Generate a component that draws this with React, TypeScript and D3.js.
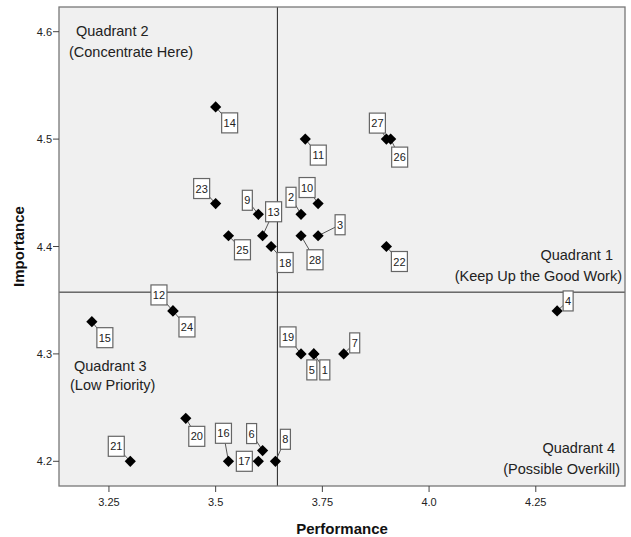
import React, { useEffect, useRef } from 'react';
import * as d3 from 'd3';

// item numbers and their mean scores
const ids = [1, 2, 3, 4, 5, 6, 7, 8, 9, 10, 11, 12, 13, 14, 15, 16, 17, 18, 19, 20, 21, 22, 23, 24, 25, 26, 27, 28];
const performance = [3.73, 3.70, 3.74, 4.30, 3.73, 3.61, 3.80, 3.64, 3.60, 3.74, 3.71, 3.40, 3.61, 3.50, 3.21, 3.53, 3.60, 3.63, 3.70, 3.43, 3.30, 3.90, 3.50, 3.40, 3.53, 3.91, 3.90, 3.70];
const importance = [4.30, 4.43, 4.41, 4.34, 4.30, 4.21, 4.30, 4.20, 4.43, 4.44, 4.50, 4.34, 4.41, 4.53, 4.33, 4.20, 4.20, 4.40, 4.30, 4.24, 4.20, 4.40, 4.44, 4.34, 4.41, 4.50, 4.50, 4.41];

const xTicks = [3.25, 3.5, 3.75, 4.0, 4.25];
const xTickLabels = ['3.25', '3.5', '3.75', '4.0', '4.25'];
const yTicks = [4.2, 4.3, 4.4, 4.5, 4.6];
const yTickLabels = ['4.2', '4.3', '4.4', '4.5', '4.6'];

// label box offsets from the marker, in pixels (layout only)
const labelDx = [11, -10, 22, 11, -2, -11, 11, 10, -11, -11, 13, -14, 11, 14, 13, -5, -14, 14, -13, 11, -14, 13, -14, 14, 14, 9, -9, 14];
const labelDy = [16, -17, -11, -10, 16, -17, -11, -22, -14, -16, 16, -16, -24, 16, 16, -28, 0, 16, -17, 18, -15, 15, -15, 16, 14, 18, -16, 24];

const W = 631;
const H = 537;
const margin = { top: 7, right: 6, bottom: 51, left: 59 };
const font = '"Liberation Sans", Arial, sans-serif';

const App: React.FC = () => {
  const svgRef = useRef<SVGSVGElement>(null);

  useEffect(() => {
    if (!svgRef.current) return;
    const svg = d3.select(svgRef.current);
    svg.selectAll('*').remove();

    const x = d3.scaleLinear().domain([3.133, 4.459]).range([margin.left, W - margin.right]);
    const y = d3.scaleLinear().domain([4.177, 4.623]).range([H - margin.bottom, margin.top]);
    const [x0, x1] = x.range();
    const [y1, y0] = y.range();

    const points = ids.map((id, i) => ({ id, p: performance[i], imp: importance[i], dx: labelDx[i], dy: labelDy[i] }));

    svg.append('rect')
      .attr('x', x0).attr('y', y0)
      .attr('width', x1 - x0).attr('height', y1 - y0)
      .attr('fill', '#f0f0f0');

    // reference lines at the means
    const meanP = d3.mean(performance) as number;
    const meanI = d3.mean(importance) as number;
    svg.append('line')
      .attr('x1', x(meanP)).attr('x2', x(meanP))
      .attr('y1', y0).attr('y2', y1)
      .attr('stroke', '#222').attr('stroke-width', 1);
    svg.append('line')
      .attr('x1', x0).attr('x2', x1)
      .attr('y1', y(meanI)).attr('y2', y(meanI))
      .attr('stroke', '#222').attr('stroke-width', 1);

    // frame
    svg.append('rect')
      .attr('x', x0).attr('y', y0)
      .attr('width', x1 - x0).attr('height', y1 - y0)
      .attr('fill', 'none').attr('stroke', '#777').attr('stroke-width', 1.3);

    // axes
    const xAxis = svg.append('g');
    xTicks.forEach((t, i) => {
      xAxis.append('line')
        .attr('x1', x(t)).attr('x2', x(t))
        .attr('y1', y1).attr('y2', y1 + 6)
        .attr('stroke', '#444');
      xAxis.append('text')
        .attr('x', x(t)).attr('y', y1 + 20)
        .attr('text-anchor', 'middle')
        .attr('font-family', font).attr('font-size', 11)
        .attr('fill', '#222')
        .text(xTickLabels[i]);
    });
    const yAxis = svg.append('g');
    yTicks.forEach((t, i) => {
      yAxis.append('line')
        .attr('x1', x0 - 6).attr('x2', x0)
        .attr('y1', y(t)).attr('y2', y(t))
        .attr('stroke', '#444');
      yAxis.append('text')
        .attr('x', x0 - 7).attr('y', y(t) + 4)
        .attr('text-anchor', 'end')
        .attr('font-family', font).attr('font-size', 11)
        .attr('fill', '#222')
        .text(yTickLabels[i]);
    });

    svg.append('text')
      .attr('x', (x0 + x1) / 2).attr('y', H - 3)
      .attr('text-anchor', 'middle')
      .attr('font-family', font).attr('font-size', 15).attr('font-weight', 'bold')
      .attr('fill', '#111')
      .text('Performance');
    svg.append('text')
      .attr('transform', `translate(24,${(y0 + y1) / 2}) rotate(-90)`)
      .attr('text-anchor', 'middle')
      .attr('font-family', font).attr('font-size', 15).attr('font-weight', 'bold')
      .attr('fill', '#111')
      .text('Importance');

    // quadrant captions
    const cap = (tx: number, ty: number, anchor: string, s: string) =>
      svg.append('text')
        .attr('x', tx).attr('y', ty)
        .attr('text-anchor', anchor)
        .attr('font-family', font).attr('font-size', 14.5)
        .attr('fill', '#222')
        .text(s);
    cap(x0 + 17, y0 + 29, 'start', 'Quadrant 2');
    cap(x0 + 10, y0 + 50, 'start', '(Concentrate Here)');
    cap(x1 - 12, 259.5, 'end', 'Quadrant 1');
    cap(x1 - 3, 280.5, 'end', '(Keep Up the Good Work)');
    cap(x0 + 15, 371, 'start', 'Quadrant 3');
    cap(x0 + 11, 390, 'start', '(Low Priority)');
    cap(x1 - 10, y1 - 33, 'end', 'Quadrant 4');
    cap(x1 - 5, y1 - 12, 'end', '(Possible Overkill)');

    // leader lines
    svg.append('g').selectAll('line')
      .data(points).enter().append('line')
      .attr('x1', d => x(d.p)).attr('y1', d => y(d.imp))
      .attr('x2', d => x(d.p) + d.dx).attr('y2', d => y(d.imp) + d.dy)
      .attr('stroke', '#555').attr('stroke-width', 1);

    // markers
    const r = 5.6;
    svg.append('g').selectAll('path')
      .data(points).enter().append('path')
      .attr('d', d => {
        const cx = x(d.p), cy = y(d.imp);
        return `M${cx},${cy - r}L${cx + r},${cy}L${cx},${cy + r}L${cx - r},${cy}Z`;
      })
      .attr('fill', '#000');

    // label boxes
    const lab = svg.append('g').selectAll('g')
      .data(points).enter().append('g')
      .attr('transform', d => `translate(${x(d.p) + d.dx},${y(d.imp) + d.dy})`);
    lab.append('rect')
      .attr('x', d => (String(d.id).length > 1 ? -8 : -5))
      .attr('y', -10)
      .attr('width', d => (String(d.id).length > 1 ? 16 : 10))
      .attr('height', 20)
      .attr('fill', '#fff')
      .attr('stroke', '#666').attr('stroke-width', 1.2);
    lab.append('text')
      .attr('y', 4)
      .attr('text-anchor', 'middle')
      .attr('font-family', font).attr('font-size', 11)
      .attr('fill', '#222')
      .text(d => d.id);
  }, []);

  return (
    <div style={{ position: 'absolute', left: 0, top: 0 }}>
      <svg ref={svgRef} width={W} height={H} style={{ display: 'block', background: '#fff' }} />
    </div>
  );
};

export default App;
